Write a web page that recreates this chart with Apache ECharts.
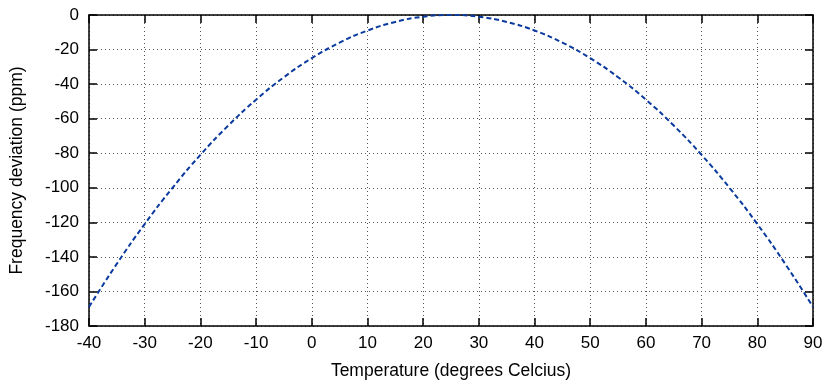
<!DOCTYPE html>
<html><head><meta charset="utf-8">
<script src="https://cdn.jsdelivr.net/npm/echarts@6/dist/echarts.min.js"></script>
<style>html,body{margin:0;padding:0;background:#fff}#c{width:828px;height:385px}</style>
</head><body><div id="c"></div>
<script>
const temps = [-40,-35,-30,-25,-20,-15,-10,-5,0,5,10,15,20,25,30,35,40,45,50,55,60,65,70,75,80,85,90];
const deviation = [-169,-144,-121,-100,-81,-64,-49,-36,-25,-16,-9,-4,-1,0,-1,-4,-9,-16,-25,-36,-49,-64,-81,-100,-121,-144,-169];
const xTitle = 'Temperature (degrees Celcius)';
const yTitle = 'Frequency deviation (ppm)';
const font = 'Liberation Sans, Arial, sans-serif';
const chart = echarts.init(document.getElementById('c'));
const axisLine = {show:true, onZero:false, lineStyle:{color:'#000', width:1.5}};
const tick = {show:true, inside:true, length:8, lineStyle:{color:'#000', width:1.5}};
const grid = {show:true, lineStyle:{color:'#555', type:[1,3], width:1}};
chart.setOption({
  animation:false,
  grid:{left:88, right:15, top:15, bottom:54},
  xAxis:[{type:'value', min:-40, max:90, interval:10, axisLine, axisTick:tick, splitLine:grid,
    axisLabel:{color:'#000', fontFamily:font, fontSize:17, margin:9},
    name:xTitle, nameLocation:'middle', nameGap:36, nameTextStyle:{color:'#000', fontFamily:font, fontSize:17.5}},
    {type:'value', position:'top', min:-40, max:90, interval:10, axisLine, axisTick:tick, splitLine:{show:false}, axisLabel:{show:false}}],
  yAxis:[{type:'value', min:-180, max:0, interval:20, axisLine, axisTick:tick, splitLine:grid,
    axisLabel:{color:'#000', fontFamily:font, fontSize:17, margin:10},
    name:yTitle, nameLocation:'middle', nameGap:63, nameTextStyle:{color:'#000', fontFamily:font, fontSize:17.5}},
    {type:'value', position:'right', min:-180, max:0, interval:20, axisLine, axisTick:tick, splitLine:{show:false}, axisLabel:{show:false}}],
  series:[{type:'line', data:temps.map((t,i)=>[t,deviation[i]]), smooth:true, symbol:'none', clip:false,
    lineStyle:{color:'#0a3a9e', width:2, type:[5,3]}}]
});
</script></body></html>
